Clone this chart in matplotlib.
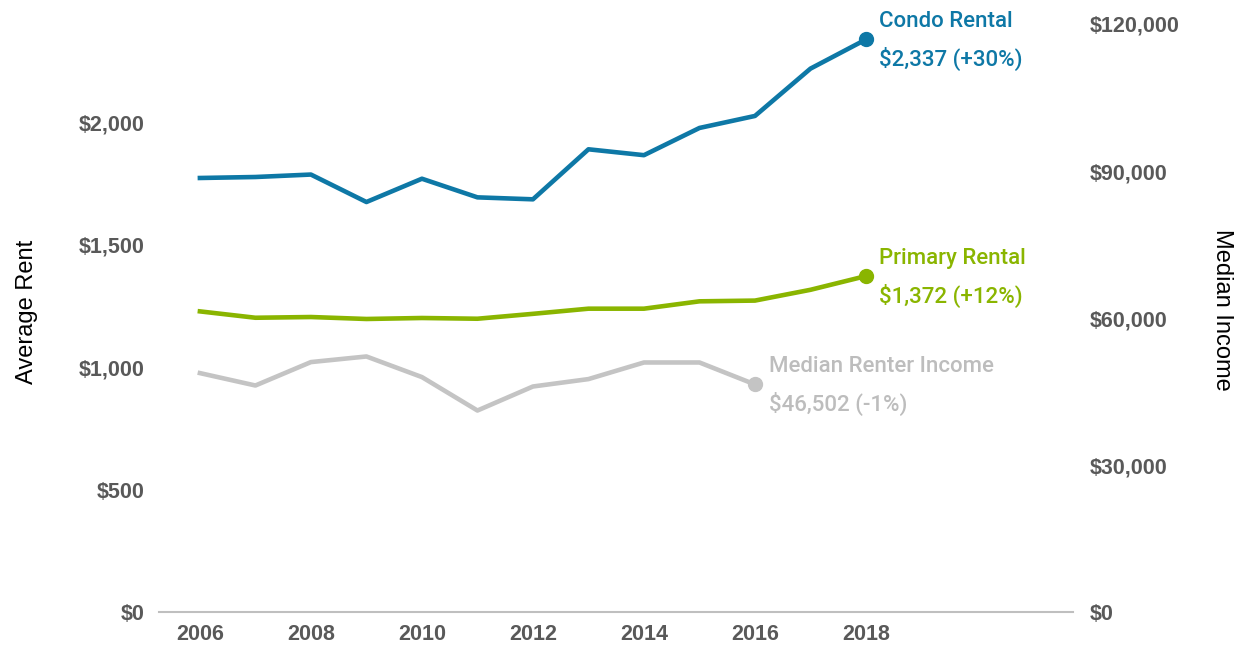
import matplotlib
matplotlib.use("Agg")
import matplotlib.pyplot as plt
from matplotlib import font_manager
from matplotlib.ticker import FuncFormatter

plt.rcParams['font.family'] = ['Liberation Sans', 'DejaVu Sans']

# a medium weight looks closest to the labels in the reference
medium = any(f.name == 'Roboto' and f.weight in (500, 'medium')
             for f in font_manager.fontManager.ttflist)

# data
years = [2006, 2007, 2008, 2009, 2010, 2011, 2012, 2013, 2014, 2015, 2016, 2017, 2018]
condo_rent = [1772, 1776, 1786, 1674, 1769, 1693, 1685, 1889, 1865, 1976, 2025, 2218, 2337]
primary_rent = [1228, 1202, 1205, 1197, 1201, 1198, 1218, 1239, 1239, 1269, 1272, 1316, 1372]
income_years = [2006, 2007, 2008, 2009, 2010, 2011, 2012, 2013, 2014, 2015, 2016]
median_income = [48816, 46286, 51061, 52204, 48000, 41184, 46082, 47592, 50980, 50980, 46502]

rent_ticks = [0, 500, 1000, 1500, 2000]
income_ticks = [0, 30000, 60000, 90000, 120000]
year_ticks = [2006, 2008, 2010, 2012, 2014, 2016, 2018]

condo_label = ["Condo Rental", "$2,337 (+30%)"]
primary_label = ["Primary Rental", "$1,372 (+12%)"]
income_label = ["Median Renter Income", "$46,502 (-1%)"]

blue = '#0E78A6'
green = '#8AB500'
grey = '#C4C4C4'
tick_col = '#595959'

if medium:
    note_font = dict(family=['Roboto', 'DejaVu Sans'], fontweight='medium', fontsize=16)
else:
    note_font = dict(fontsize=16)

fig = plt.figure(figsize=(12.55, 6.45), dpi=100)
ax = fig.add_axes([0.127, 0.0504, 0.728, 0.9124])
ax2 = ax.twinx()

ax.plot(years, condo_rent, color=blue, lw=3.3, zorder=3)
ax.plot(years[-1], condo_rent[-1], 'o', color=blue, ms=10, zorder=4)
ax.plot(years, primary_rent, color=green, lw=3.3, zorder=3)
ax.plot(years[-1], primary_rent[-1], 'o', color=green, ms=10, zorder=4)
ax2.plot(income_years, median_income, color=grey, lw=3.3)
ax2.plot(income_years[-1], median_income[-1], 'o', color=grey, ms=10)

ax.set_xlim(2005.27, 2021.73)
ax.set_ylim(0, 2400)
ax2.set_ylim(0, 120000)

ax.set_xticks(year_ticks)
ax.set_yticks(rent_ticks)
ax2.set_yticks(income_ticks)
ax.yaxis.set_major_formatter(FuncFormatter(lambda v, p: f"${v:,.0f}"))
ax2.yaxis.set_major_formatter(FuncFormatter(lambda v, p: f"${v:,.0f}"))

for a in (ax, ax2):
    for s in a.spines.values():
        s.set_visible(False)
    a.tick_params(length=0, labelsize=15.5, labelcolor=tick_col)
    for lab in a.get_yticklabels() + a.get_xticklabels():
        lab.set_fontweight('bold')
ax.spines['bottom'].set_visible(True)
ax.spines['bottom'].set_color('#BFBFBF')
ax.spines['bottom'].set_linewidth(1.5)
ax.tick_params(axis='y', pad=11)
ax2.tick_params(axis='y', pad=12)
ax.tick_params(axis='x', pad=8)

fig.text(0.0215, 0.516, "Average Rent", rotation=90, ha='center', va='center',
         color='black', fontsize=17)
fig.text(0.974, 0.519, "Median Income", rotation=270, ha='center', va='center',
         color='black', fontsize=17)

def label(axis, x, y, lines, color, dx):
    axis.annotate(lines[0], xy=(x, y), xytext=(dx, 18), textcoords='offset pixels',
                  ha='left', va='center', color=color, **note_font)
    axis.annotate(lines[1], xy=(x, y), xytext=(dx, -20), textcoords='offset pixels',
                  ha='left', va='center', color=color, **note_font)

label(ax, years[-1], condo_rent[-1], condo_label, blue, 13)
label(ax, years[-1], primary_rent[-1], primary_label, green, 13)
label(ax2, income_years[-1], median_income[-1], income_label, '#BDBDBD', 14)

fig.savefig("out.png", dpi=100)
